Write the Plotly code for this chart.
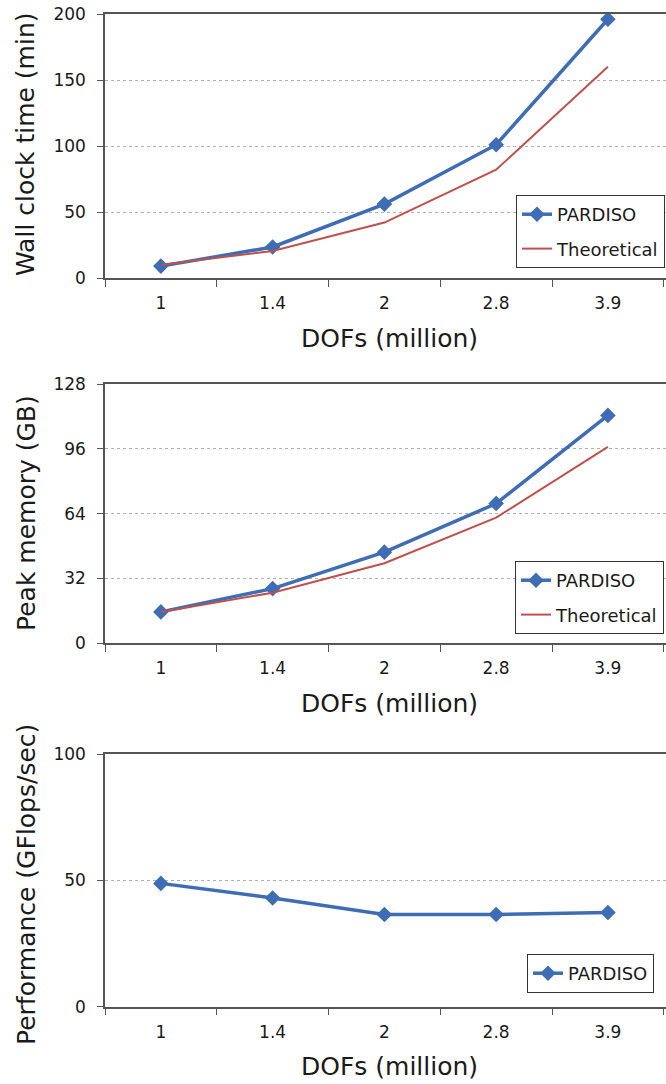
import plotly.graph_objects as go

categories = ["1", "1.4", "2", "2.8", "3.9"]
wall_pardiso = [9, 23.5, 56, 101, 196]
wall_theory = [10, 20.5, 42, 82, 160]
mem_pardiso = [15.5, 27, 45, 69, 112.5]
mem_theory = [15.5, 25, 39.5, 62, 97]
perf_pardiso = [48.8, 43, 36.5, 36.5, 37.3]

y1_ticks = [0, 50, 100, 150, 200]
y2_ticks = [0, 32, 64, 96, 128]
y3_ticks = [0, 50, 100]

W, H = 666, 1084
BLUE = "#3E6DB5"
RED = "#C0504D"
AX = "#555555"
FONT = "DejaVu Sans"
TXT = "#1a1a1a"

def py(p):
    return 1 - p / H

def pxx(p):
    return p / W

# (top px, bottom px, ticks, title, title centre px)
panels = [
    (14, 278, y1_ticks, "Wall clock time (min)", 144),
    (384, 643.3, y2_ticks, "Peak memory (GB)", 513),
    (754, 1006.7, y3_ticks, "Performance (GFlops/sec)", 885),
]

fig = go.Figure()

def ax_ids(idx):
    return ("x", "y") if idx == 1 else (f"x{idx}", f"y{idx}")

def add_pardiso(y, idx, legend):
    xa, ya = ax_ids(idx)
    fig.add_trace(go.Scatter(
        x=categories, y=y, name="PARDISO", mode="lines+markers",
        line=dict(color=BLUE, width=3.5),
        marker=dict(symbol="diamond", size=12, color=BLUE),
        xaxis=xa, yaxis=ya, legend=legend, legendgroup=f"p{idx}",
    ))

def add_theory(y, idx, legend):
    xa, ya = ax_ids(idx)
    fig.add_trace(go.Scatter(
        x=categories, y=y, name="Theoretical", mode="lines",
        line=dict(color=RED, width=2),
        xaxis=xa, yaxis=ya, legend=legend, legendgroup=f"t{idx}",
    ))

add_pardiso(wall_pardiso, 1, "legend")
add_theory(wall_theory, 1, "legend")
add_pardiso(mem_pardiso, 2, "legend2")
add_theory(mem_theory, 2, "legend2")
add_pardiso(perf_pardiso, 3, "legend3")

layout = dict(
    width=W, height=H,
    margin=dict(l=0, r=0, t=0, b=0),
    paper_bgcolor="white", plot_bgcolor="white",
    font=dict(family=FONT, color=TXT),
    showlegend=True,
)

annotations = []
for i, (top, bot, ticks, title, tc) in enumerate(panels, start=1):
    sfx = "" if i == 1 else str(i)
    layout[f"xaxis{sfx}"] = dict(
        domain=[pxx(105), 1], anchor=f"y{sfx}", type="category",
        range=[-0.5, 4.52], tickson="boundaries", ticks="outside", ticklen=7,
        tickcolor=AX, showline=True, linecolor=AX, linewidth=1.5, mirror=True,
        showgrid=False, tickfont=dict(size=17, family=FONT, color=TXT),
        automargin=False, ticklabelstandoff=9,
    )
    layout[f"yaxis{sfx}"] = dict(
        domain=[py(bot), py(top)], anchor=f"x{sfx}",
        range=[ticks[0], ticks[-1]], tickvals=ticks, ticks="outside", ticklen=6,
        tickcolor=AX, showline=True, linecolor=AX, linewidth=1.5,
        showgrid=True, gridcolor="#b0b0b0", griddash="dot", gridwidth=1,
        zeroline=False, tickfont=dict(size=17, family=FONT, color=TXT),
        automargin=False, ticklabelstandoff=8,
    )
    annotations.append(dict(
        text=title, textangle=-90, x=pxx(26), y=py(tc),
        xref="paper", yref="paper", showarrow=False,
        font=dict(size=25, family=FONT, color=TXT),
        xanchor="center", yanchor="middle",
    ))
    annotations.append(dict(
        text="DOFs (million)", x=pxx(389), y=py(bot + 60),
        xref="paper", yref="paper", showarrow=False,
        font=dict(size=25, family=FONT, color=TXT),
        xanchor="center", yanchor="middle",
    ))

leg_common = dict(
    bordercolor="#333333", borderwidth=1, bgcolor="white",
    font=dict(size=18, family=FONT, color=TXT),
    xanchor="left", yanchor="top", tracegroupgap=8,
)
layout["legend"] = dict(x=pxx(516), y=py(195), **leg_common)
layout["legend2"] = dict(x=pxx(515), y=py(561), **leg_common)
layout["legend3"] = dict(x=pxx(527), y=py(954), **leg_common)
layout["annotations"] = annotations

fig.update_layout(**layout)
fig.write_html("out.html")
